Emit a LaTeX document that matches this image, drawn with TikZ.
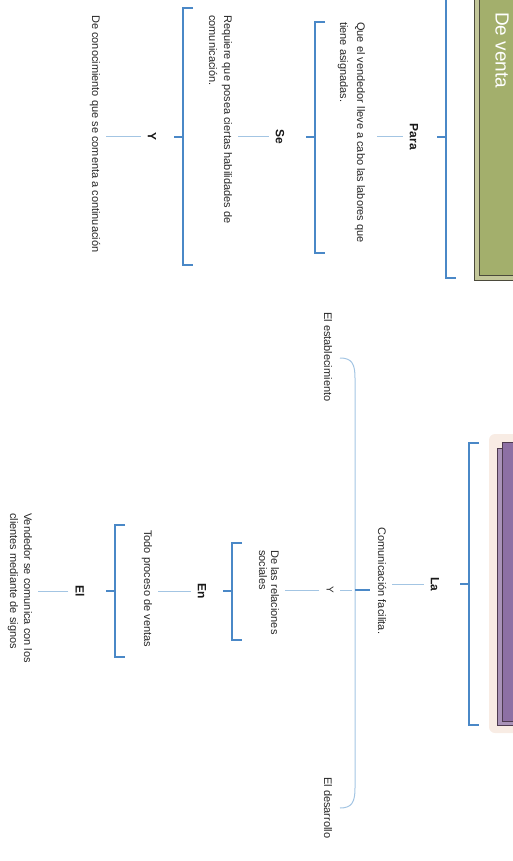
\documentclass[tikz,border=0pt]{standalone}
\usepackage{fontspec}
\setmainfont{Liberation Sans}
\usetikzlibrary{positioning,calc}

\definecolor{brkblue}{HTML}{4A88C7}
\definecolor{lnkblue}{HTML}{A3C5E3}
\definecolor{oliveback}{HTML}{C3C79A}
\definecolor{olivefill}{HTML}{A3AF6C}
\definecolor{olivedark}{HTML}{4B4A3B}
\definecolor{plumback}{HTML}{A993B8}
\definecolor{plumfill}{HTML}{8D70A4}
\definecolor{plumdark}{HTML}{4E3B50}
\definecolor{peach}{HTML}{F8ECE4}

\begin{document}
\begin{tikzpicture}[
    x=1pt, y=1pt,
    brk/.style={draw=brkblue, line width=1.1pt},
    lnk/.style={draw=lnkblue, line width=1pt, shorten <=7pt, shorten >=6pt},
    lbl/.style={font=\bfseries\fontsize{12}{14}\selectfont, inner sep=0pt, text=black!90},
    txt/.style={font=\fontsize{11}{14}\selectfont, align=left, inner sep=0pt, anchor=west, text=black!85},
  ]
  \useasboundingbox (0,0) rectangle (513,-861);
  \begin{scope}[rotate=-90, transform shape]
    \clip (0,0) rectangle (861,513);

    % title boxes
    \draw[olivedark, fill=oliveback, line width=1pt] (-20,474) rectangle (280,540);
    \draw[olivedark, fill=olivefill, line width=1pt] (-20,479) rectangle (275,540);
    \node[anchor=west, inner sep=0pt, text=white, font=\fontsize{19}{22}\selectfont] (venta) at (12,502) {De venta};

    \fill[peach, rounded corners=6pt] (434,489) rectangle (733,540);
    \draw[plumdark, fill=plumback, line width=1pt] (448,497) rectangle (725,540);
    \draw[plumdark, fill=plumfill, line width=1pt] (442,502) rectangle (721,540);

    % brackets
    \foreach \v/\a/\b/\m in {446/-4/278/137, 315/22/253/137, 183/8/265/137,
                             469/443/725/584, 232/543/640/591, 115/525/657/591}
      \draw[brk] (\a,\v+10) -- (\a,\v) -- (\b,\v) -- (\b,\v+10) (\m,\v) -- (\m,\v-9);

    % left branch
    \node[lbl] (para) at (137,414) {Para};
    \node[txt, font=\fontsize{11}{17}\selectfont] (t1) at (22,351.5) {Que el vendedor lleve a cabo las labores que\\tiene asignadas.};
    \node[lbl] (se) at (137,280) {Se};
    \node[txt, font=\fontsize{11}{15}\selectfont] (t2) at (15,220.5) {Requiere que posea ciertas habilidades de\\comunicación.};
    \node[lbl] (y1) at (137,152) {Y};
    \node[txt] (t3) at (15,95) {De conocimiento que se comenta a continuación};

    \draw[lnk, shorten >=12pt] (para.south) -- (para.south |- t1.north);
    \draw[lnk] (se.south) -- (se.south |- t2.north);
    \draw[lnk] (y1.south) -- (y1.south |- t3.north);

    % right branch
    \node[lbl] (la) at (584,435) {La};
    \node[txt] (t4) at (527,382) {Comunicación facilita.};
    \draw[lnk] (la.south) -- (la.south |- t4.north);

    \draw[lnkblue, line width=1pt] (358,340) .. controls (358,352) and (364,355) .. (378,355)
      -- (788,355) .. controls (802,355) and (808,352) .. (808,340);
    \coordinate (bcm) at (590,355);
    \draw[brk] (bcm) -- (590,370);
    \node[txt] (estab) at (312,328) {El establecimiento};
    \node[txt] (desar) at (777,328) {El desarrollo};

    \node[font=\fontsize{10}{12}\selectfont, inner sep=0pt, text=black!85] (y2) at (590,330) {Y};
    \node[txt, font=\fontsize{11}{12}\selectfont] (t5) at (550,269) {De las relaciones\\sociales};
    \draw[lnkblue, line width=1pt, shorten <=3pt, shorten >=6pt] (bcm) -- (y2.north);
    \draw[lnk] (y2.south) -- (y2.south |- t5.north);

    \node[lbl] (en) at (591,202) {En};
    \node[txt] (t6) at (530,147) {Todo proceso de ventas};
    \draw[lnk] (en.south) -- (en.south |- t6.north);

    \node[lbl] (el) at (591,80) {El};
    \node[txt] (t7) at (513,20) {Vendedor se comunica con los\\clientes mediante de signos};
    \draw[lnk] (el.south) -- (el.south |- t7.north);
  \end{scope}
\end{tikzpicture}
\end{document}
